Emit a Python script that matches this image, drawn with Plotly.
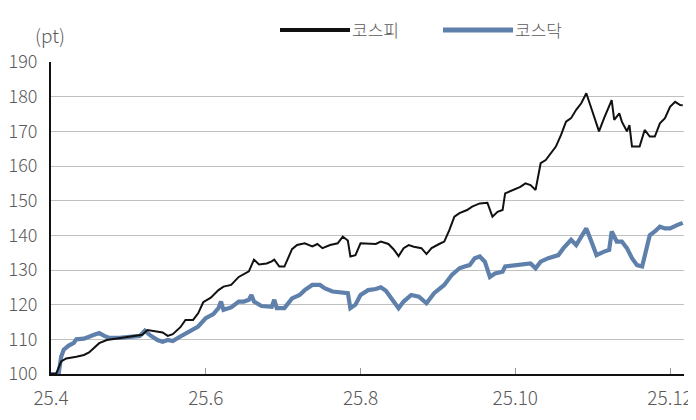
import plotly.graph_objects as go

kospi_dates = ["2025-04-01","2025-04-03","2025-04-05","2025-04-07","2025-04-11","2025-04-14","2025-04-16","2025-04-18","2025-04-20","2025-04-23",
 "2025-04-25","2025-04-29","2025-05-04","2025-05-07","2025-05-09","2025-05-12","2025-05-15","2025-05-17","2025-05-19","2025-05-22",
 "2025-05-24","2025-05-27","2025-05-29","2025-05-31","2025-06-03","2025-06-06","2025-06-08","2025-06-11","2025-06-14","2025-06-18",
 "2025-06-20","2025-06-22","2025-06-25","2025-06-27","2025-06-28","2025-06-30","2025-07-02","2025-07-05","2025-07-07","2025-07-10",
 "2025-07-13","2025-07-15","2025-07-17","2025-07-20","2025-07-23","2025-07-25","2025-07-27","2025-07-28","2025-07-30","2025-08-01",
 "2025-08-04","2025-08-07","2025-08-09","2025-08-12","2025-08-14","2025-08-16","2025-08-18","2025-08-20","2025-08-22","2025-08-25",
 "2025-08-27","2025-08-29","2025-09-01","2025-09-03","2025-09-05","2025-09-07","2025-09-09","2025-09-12","2025-09-14","2025-09-17",
 "2025-09-20","2025-09-22","2025-09-24","2025-09-26","2025-09-27","2025-09-30","2025-10-03","2025-10-05","2025-10-07","2025-10-09",
 "2025-10-11","2025-10-13","2025-10-15","2025-10-17","2025-10-19","2025-10-21","2025-10-23","2025-10-25","2025-10-27","2025-10-29",
 "2025-10-31","2025-11-02","2025-11-03","2025-11-05","2025-11-08","2025-11-09","2025-11-11","2025-11-12","2025-11-14","2025-11-15",
 "2025-11-16","2025-11-19","2025-11-21","2025-11-23","2025-11-25","2025-11-27","2025-11-29","2025-12-01","2025-12-03","2025-12-05",
 "2025-12-06"]
kospi_vals = [100,100,103.6,104.5,105,105.5,106.2,107.5,108.9,109.8,
 110,110.5,110.8,111.3,112.7,112.3,112,111,111.5,113.5,
 115.6,115.6,117.5,120.7,122,124.2,125.2,125.7,128,129.6,
 133,131.6,131.9,132.5,133,131,131,136,137.2,137.7,
 136.8,137.5,136.3,137.2,137.7,139.6,138.5,133.9,134.3,137.7,
 137.7,137.5,138.2,137.5,136,134,136.3,137.2,136.7,136.3,
 134.6,136.3,137.5,138.2,141.5,145.4,146.4,147.3,148.3,149.2,
 149.4,145.4,146.8,147.3,152.1,153,154,155,154.5,153.1,
 160.8,161.7,163.7,165.6,168.9,172.8,173.8,176.2,178.1,181,
 176.6,171.8,170,173.8,179,173.3,175.2,172.8,170,171.8,
 165.6,165.6,170.4,168.5,168.5,172.3,173.8,177.1,178.5,177.6,
 177.5]

kosdaq_dates = ["2025-04-01","2025-04-03","2025-04-04","2025-04-05","2025-04-06","2025-04-08","2025-04-10","2025-04-11","2025-04-14","2025-04-18",
 "2025-04-20","2025-04-22","2025-04-24","2025-04-28","2025-05-03","2025-05-06","2025-05-08","2025-05-10","2025-05-13","2025-05-15",
 "2025-05-17","2025-05-19","2025-05-22","2025-05-25","2025-05-29","2025-06-01","2025-06-04","2025-06-06","2025-06-07","2025-06-08",
 "2025-06-11","2025-06-14","2025-06-16","2025-06-18","2025-06-19","2025-06-20","2025-06-23","2025-06-27","2025-06-28","2025-06-29",
 "2025-07-02","2025-07-05","2025-07-08","2025-07-10","2025-07-13","2025-07-16","2025-07-18","2025-07-21","2025-07-24","2025-07-27",
 "2025-07-28","2025-07-30","2025-08-01","2025-08-04","2025-08-07","2025-08-09","2025-08-11","2025-08-13","2025-08-16","2025-08-18",
 "2025-08-21","2025-08-24","2025-08-27","2025-08-30","2025-09-03","2025-09-06","2025-09-09","2025-09-11","2025-09-13","2025-09-15",
 "2025-09-17","2025-09-19","2025-09-21","2025-09-23","2025-09-26","2025-09-27","2025-10-01","2025-10-05","2025-10-07","2025-10-09",
 "2025-10-11","2025-10-14","2025-10-18","2025-10-20","2025-10-23","2025-10-25","2025-10-27","2025-10-29","2025-10-31","2025-11-02",
 "2025-11-05","2025-11-07","2025-11-08","2025-11-10","2025-11-12","2025-11-14","2025-11-16","2025-11-18","2025-11-20","2025-11-22",
 "2025-11-23","2025-11-25","2025-11-27","2025-11-29","2025-12-01","2025-12-04","2025-12-06"]
kosdaq_vals = [100,100,100,105,107,108.2,109,110,110.2,111.3,
 111.8,111,110.4,110.4,110.7,111,112.5,111.2,109.8,109.3,
 109.8,109.5,110.8,112,113.7,116.1,117.3,119,120.9,118.5,
 119.2,120.9,120.9,121.4,122.8,120.9,119.6,119.4,121.4,119,
 119,121.8,122.8,124.2,125.7,125.7,124.7,123.8,123.5,123.3,
 119,120,122.8,124.2,124.5,125,124,121.8,119,120.9,
 122.8,122.3,120.4,123.3,125.7,128.6,130.5,131,131.4,133.4,
 133.9,132.4,128,129,129.5,131,131.4,131.6,131.9,130.5,
 132.4,133.4,134.3,136.3,138.7,137.2,139.6,142,138.2,134.3,
 135.3,135.8,141.1,138.2,138.2,136.3,133.4,131.4,131,137.7,
 140,141.1,142.5,142,142,143,143.6]

series_names = ["코스피", "코스닥"]
tick_dates = ["2025-04-01", "2025-06-01", "2025-08-01", "2025-10-01", "2025-12-01"]
tick_labels = ["25.4", "25.6", "25.8", "25.10", "25.12"]
y_ticks = [100, 110, 120, 130, 140, 150, 160, 170, 180, 190]

BLACK = "#111111"
BLUE = "#5f80ab"
GRAY_TXT = "#5a5a5a"
FONT = "Noto Sans CJK KR"

fig = go.Figure()
fig.add_trace(go.Scatter(x=kosdaq_dates, y=kosdaq_vals, name=series_names[1], mode="lines",
                         line=dict(color=BLUE, width=4.2)))
fig.add_trace(go.Scatter(x=kospi_dates, y=kospi_vals, name=series_names[0], mode="lines",
                         line=dict(color=BLACK, width=2)))

# page body has an 8px margin, so the figure is sized/offset to land on the reference's pixels
fig.update_layout(
    width=688, height=412,
    margin=dict(l=43, r=12, t=54, b=46, autoexpand=False),
    paper_bgcolor="white", plot_bgcolor="white",
    showlegend=False,
    font=dict(family=FONT, color=GRAY_TXT, size=19, weight=300),
)
fig.update_xaxes(
    type="date", range=["2025-04-01", "2025-12-06 12:00"],
    tickvals=tick_dates, ticktext=tick_labels, automargin=False,
    showgrid=False, showline=True, linecolor="#111111", linewidth=2,
    ticks="inside", ticklen=6, tickcolor="#999999", tickwidth=1,
    ticklabelstandoff=6, tickfont=dict(size=19, color=GRAY_TXT),
    zeroline=False,
)
fig.update_yaxes(
    range=[100, 190], tickvals=y_ticks, automargin=False,
    showgrid=True, gridcolor="#c0c0c0", gridwidth=1,
    showline=True, linecolor="#111111", linewidth=2,
    ticks="", ticklabelstandoff=8, tickfont=dict(size=18, color=GRAY_TXT),
    zeroline=False,
)

fig.add_annotation(xref="paper", yref="paper", x=(50 - 51) / 633, y=(374 - 34) / 312,
                   text="(pt)", showarrow=False, xanchor="center", yanchor="middle",
                   font=dict(size=19, color=GRAY_TXT))

# manual legend
legend_items = [(series_names[0], BLACK, 4, 280, 350), (series_names[1], BLUE, 5, 443, 513)]
for name, col, w, x0, x1 in legend_items:
    fig.add_shape(type="line", xref="paper", yref="paper",
                  x0=(x0 - 51) / 633, x1=(x1 - 51) / 633,
                  y0=(374 - 30) / 312, y1=(374 - 30) / 312,
                  line=dict(color=col, width=w))
    fig.add_annotation(xref="paper", yref="paper", x=(x1 - 51) / 633, y=(374 - 30) / 312,
                       text=name, showarrow=False, xanchor="left", yanchor="middle",
                       font=dict(size=17, color=GRAY_TXT))

fig.write_html("out.html")
